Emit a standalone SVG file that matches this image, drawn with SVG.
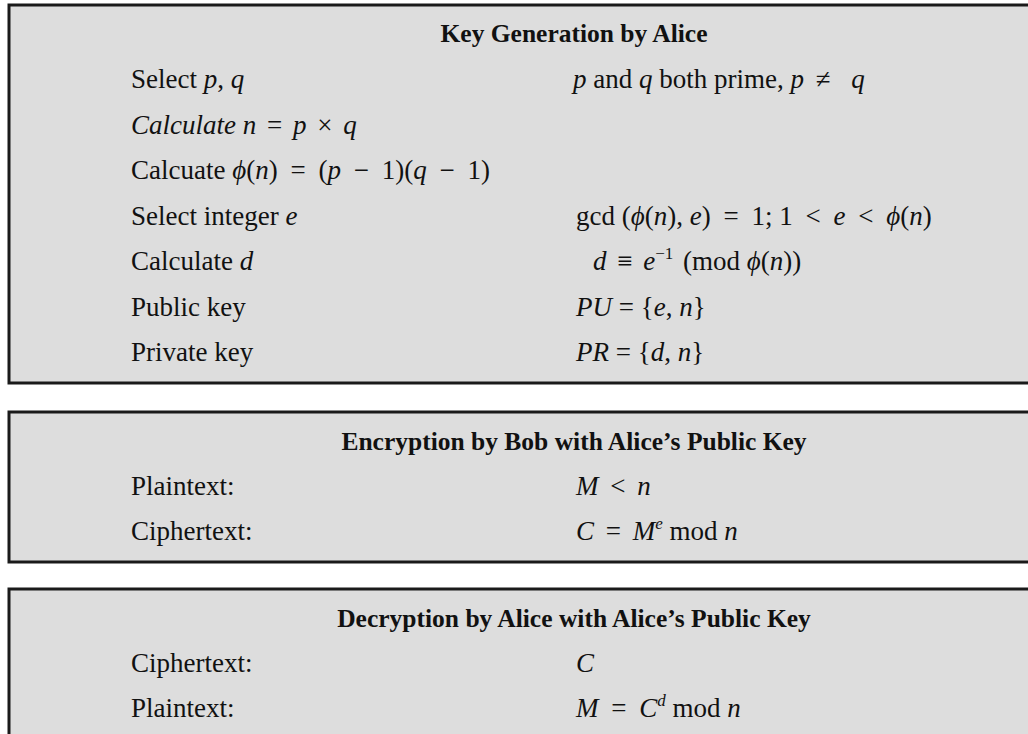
<svg xmlns="http://www.w3.org/2000/svg" width="1028" height="734" viewBox="0 0 1028 734">
<style>
.box{fill:#dddddd;stroke:#1a1a1a;stroke-width:3}
.t{font-family:"Liberation Serif","Times New Roman",serif;font-size:27px;fill:#111}
.h{font-family:"Liberation Serif","Times New Roman",serif;font-weight:bold;font-size:25.5px;fill:#111;text-anchor:middle}
.i{font-style:italic}
.s{font-size:17px}
</style>
<rect width="1028" height="734" fill="#ffffff"/>
<g id="keygen">
<rect class="box" x="9" y="5" width="1040" height="378"/>
<text class="h" x="574" y="42">Key Generation by Alice</text>
<text class="t" x="131" y="88">Select <tspan class="i">p</tspan>, <tspan class="i">q</tspan></text>
<text class="t" x="573" y="88"><tspan class="i">p</tspan> and <tspan class="i">q</tspan> both prime, <tspan class="i">p</tspan> <tspan dx="5">≠</tspan> <tspan class="i" dx="14">q</tspan></text>
<text class="t" x="131" y="134"><tspan class="i">Calculate n</tspan> <tspan dx="4">=</tspan> <tspan class="i" dx="4">p</tspan> <tspan dx="4">×</tspan> <tspan class="i" dx="4">q</tspan></text>
<text class="t" x="131" y="179">Calcuate <tspan class="i">ϕ</tspan>(<tspan class="i">n</tspan>) <tspan dx="6">=</tspan> <tspan dx="6">(</tspan><tspan class="i">p</tspan> <tspan dx="6">−</tspan> <tspan dx="6">1)(</tspan><tspan class="i">q</tspan> <tspan dx="6">−</tspan> <tspan dx="6">1)</tspan></text>
<text class="t" x="131" y="225">Select integer <tspan class="i">e</tspan></text>
<text class="t" x="576" y="225">gcd (<tspan class="i">ϕ</tspan>(<tspan class="i">n</tspan>), <tspan class="i">e</tspan>) <tspan dx="6">=</tspan> <tspan dx="6">1; 1</tspan> <tspan dx="6">&lt;</tspan> <tspan class="i" dx="6">e</tspan> <tspan dx="6">&lt;</tspan> <tspan class="i" dx="6">ϕ</tspan>(<tspan class="i">n</tspan>)</text>
<text class="t" x="131" y="270">Calculate <tspan class="i">d</tspan></text>
<text class="t" x="593" y="270"><tspan class="i">d</tspan> <tspan dx="4">≡</tspan> <tspan class="i" dx="4">e</tspan><tspan class="s" dy="-11">−1</tspan> <tspan dy="11" dx="3">(mod </tspan><tspan class="i">ϕ</tspan>(<tspan class="i">n</tspan>))</text>
<text class="t" x="131" y="316">Public key</text>
<text class="t" x="576" y="316"><tspan class="i">PU</tspan> = {<tspan class="i">e</tspan>, <tspan class="i">n</tspan>}</text>
<text class="t" x="131" y="361">Private key</text>
<text class="t" x="576" y="361"><tspan class="i">PR</tspan> = {<tspan class="i">d</tspan>, <tspan class="i">n</tspan>}</text>
</g>
<g id="encryption">
<rect class="box" x="9" y="412" width="1040" height="150"/>
<text class="h" x="574" y="450">Encryption by Bob with Alice’s Public Key</text>
<text class="t" x="131" y="495">Plaintext:</text>
<text class="t" x="576" y="495"><tspan class="i">M</tspan> <tspan dx="5">&lt;</tspan> <tspan class="i" dx="5">n</tspan></text>
<text class="t" x="131" y="540">Ciphertext:</text>
<text class="t" x="576" y="540"><tspan class="i">C</tspan> <tspan dx="5">=</tspan> <tspan class="i" dx="5">M</tspan><tspan class="s i" dy="-11">e</tspan> <tspan dy="11">mod </tspan><tspan class="i">n</tspan></text>
</g>
<g id="decryption">
<rect class="box" x="9" y="589" width="1040" height="160"/>
<text class="h" x="574" y="627">Decryption by Alice with Alice’s Public Key</text>
<text class="t" x="131" y="672">Ciphertext:</text>
<text class="t" x="576" y="672"><tspan class="i">C</tspan></text>
<text class="t" x="131" y="717">Plaintext:</text>
<text class="t" x="576" y="717"><tspan class="i">M</tspan> <tspan dx="6">=</tspan> <tspan class="i" dx="6">C</tspan><tspan class="s i" dy="-11">d</tspan> <tspan dy="11">mod </tspan><tspan class="i">n</tspan></text>
</g>
<g id="connectors"/>
</svg>
